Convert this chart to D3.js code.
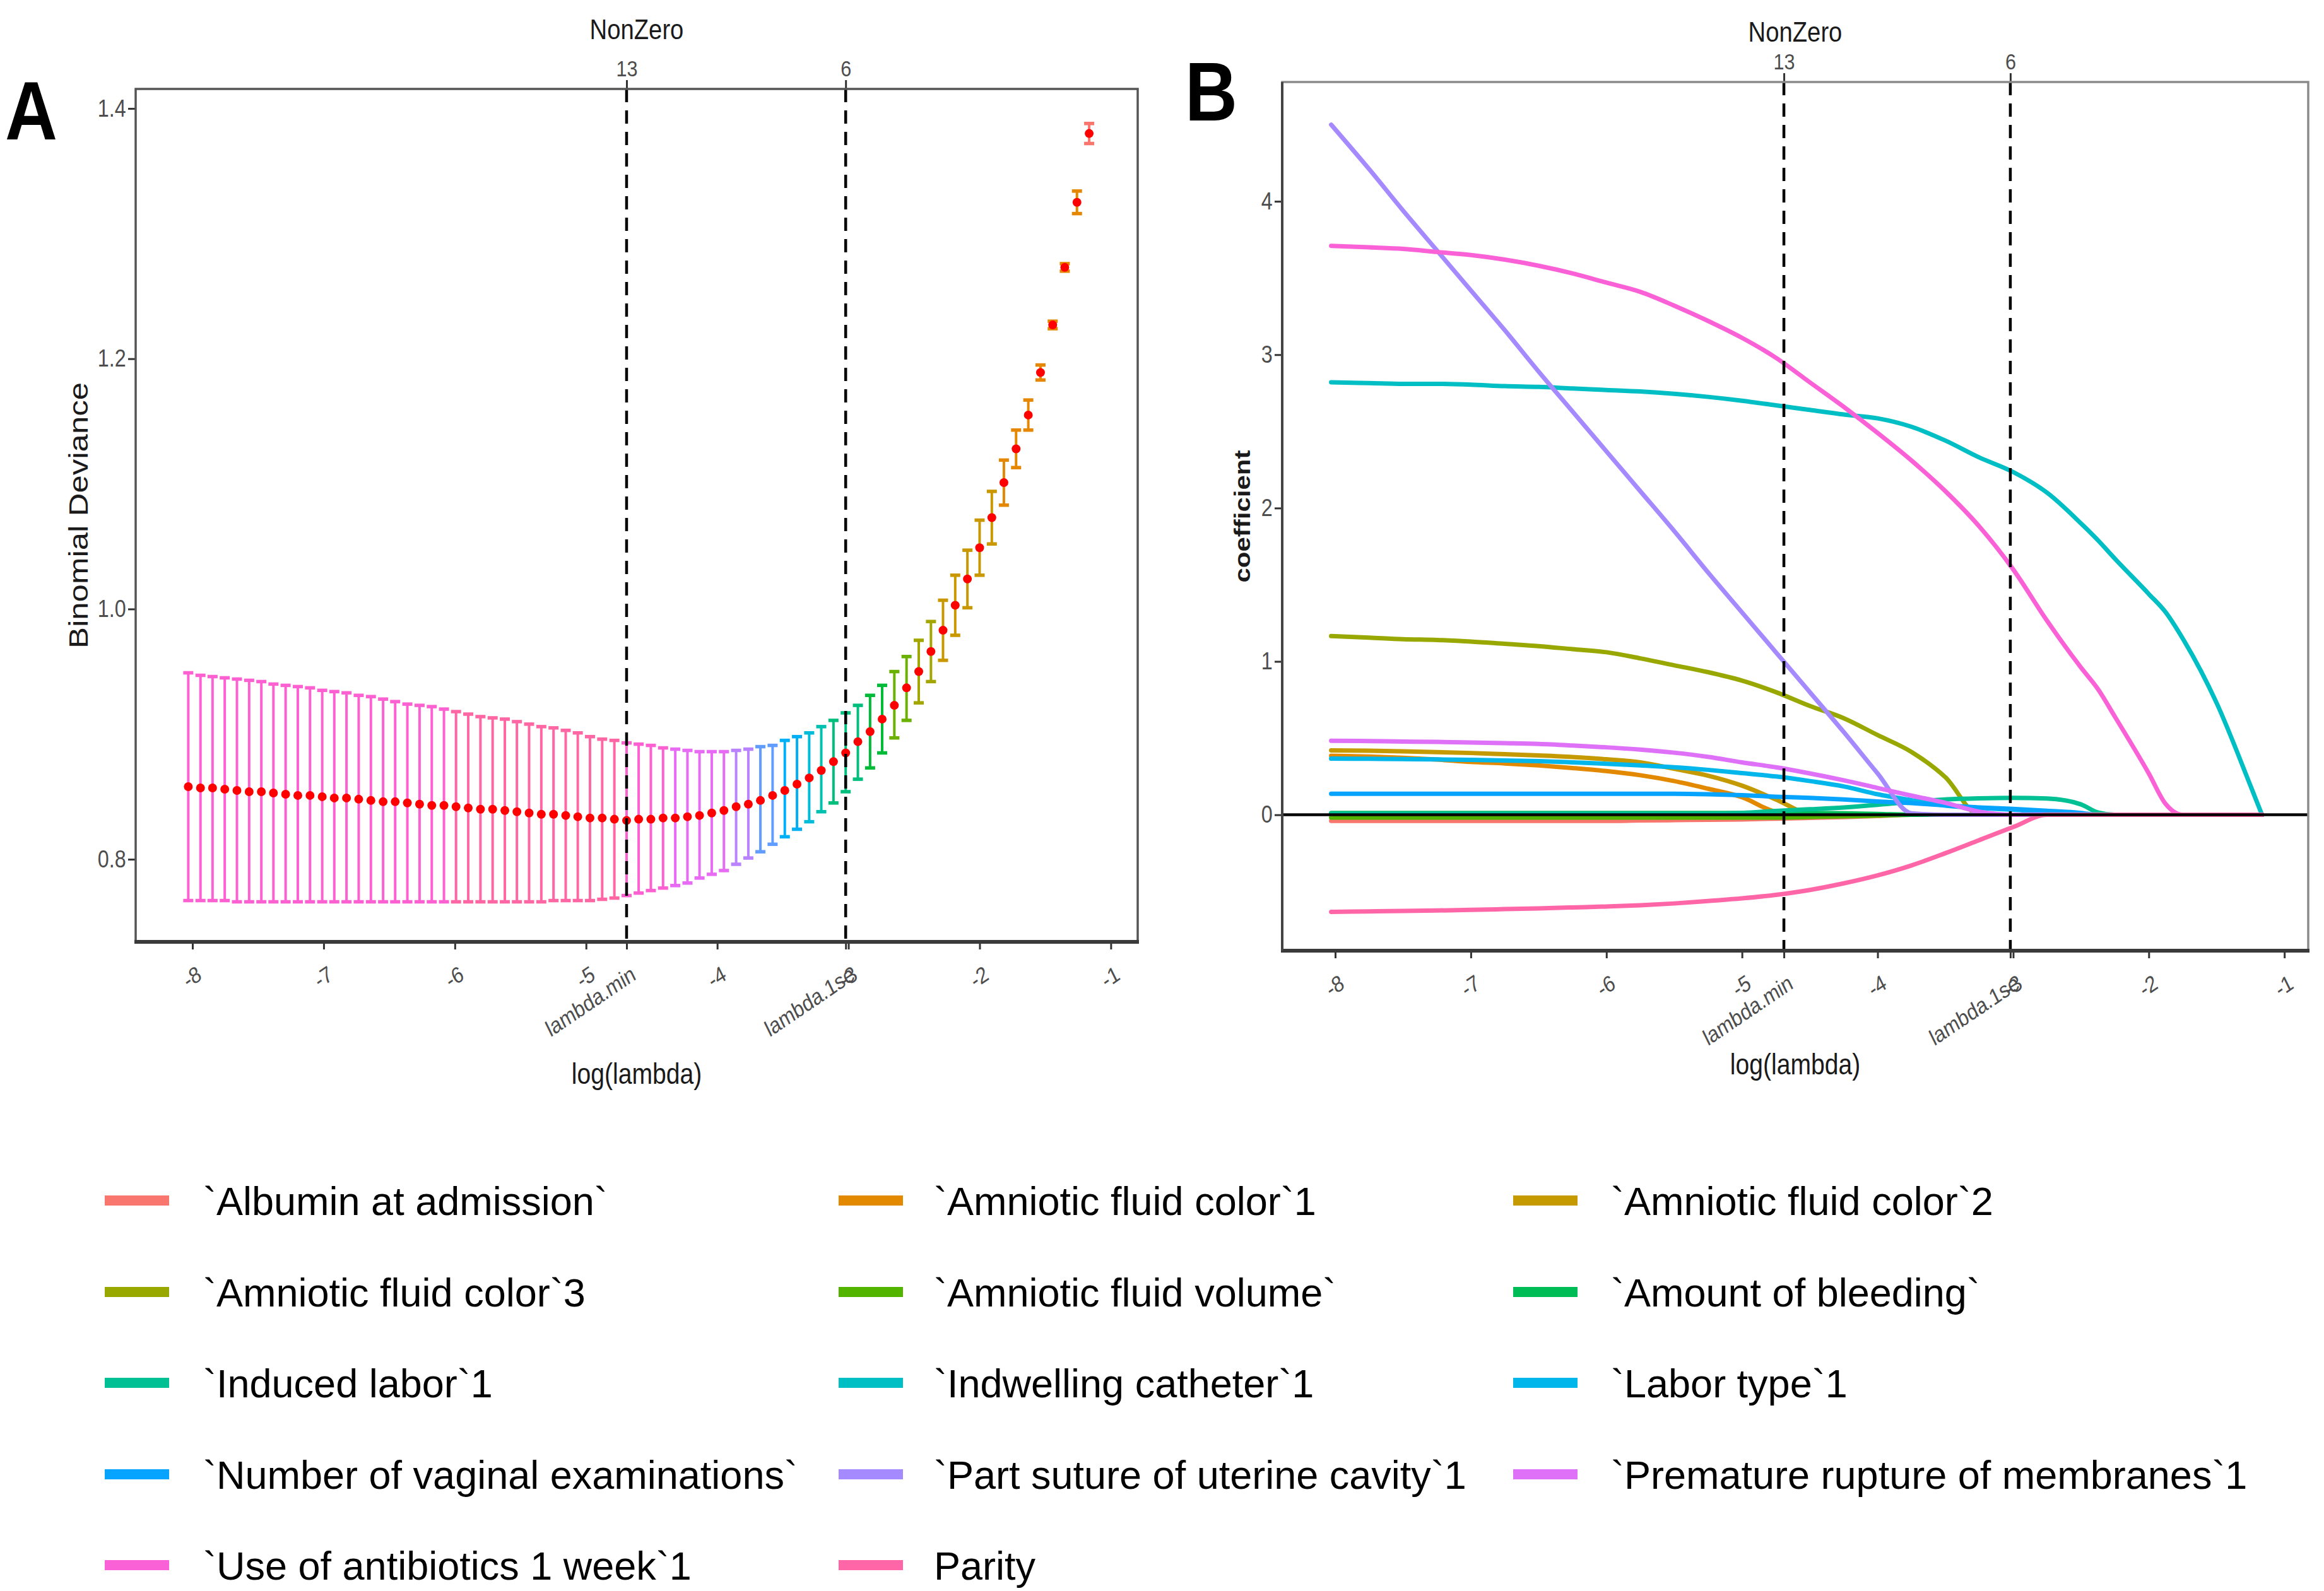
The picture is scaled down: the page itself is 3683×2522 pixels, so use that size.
<!DOCTYPE html>
<html>
<head>
<meta charset="utf-8">
<script src="https://cdn.jsdelivr.net/npm/d3@7"></script>
<style>
  html, body { margin: 0; padding: 0; background: #fff; }
</style>
</head>
<body>
<svg id="fig" width="3683" height="2522"></svg>
<script>
// ---------------- data: panel A (cross-validation curve) ----------------
const logLambda = [-1.165,-1.258,-1.351,-1.443,-1.536,-1.629,-1.722,-1.815,-1.907,-2.000,
  -2.093,-2.186,-2.279,-2.371,-2.464,-2.557,-2.650,-2.743,-2.835,-2.928,
  -3.021,-3.114,-3.207,-3.299,-3.392,-3.485,-3.578,-3.671,-3.763,-3.856,
  -3.949,-4.042,-4.135,-4.227,-4.320,-4.413,-4.506,-4.599,-4.691,-4.784,
  -4.877,-4.970,-5.063,-5.155,-5.248,-5.341,-5.434,-5.527,-5.619,-5.712,
  -5.805,-5.898,-5.991,-6.083,-6.176,-6.269,-6.362,-6.455,-6.547,-6.640,
  -6.733,-6.826,-6.919,-7.011,-7.104,-7.197,-7.290,-7.383,-7.475,-7.568,
  -7.661,-7.754,-7.847,-7.939,-8.032]
const cvm = [1.380,1.325,1.273,1.227,1.189,1.155,1.128,1.101,1.073,1.049,
  1.024,1.003,0.983,0.966,0.950,0.937,0.923,0.912,0.902,0.894,
  0.885,0.878,0.871,0.865,0.860,0.855,0.851,0.847,0.844,0.842,
  0.839,0.837,0.835,0.834,0.833,0.833,0.832,0.832,0.831,0.832,
  0.833,0.833,0.834,0.835,0.836,0.836,0.837,0.838,0.839,0.840,
  0.840,0.841,0.842,0.843,0.843,0.844,0.845,0.846,0.846,0.847,
  0.848,0.849,0.849,0.850,0.851,0.851,0.852,0.853,0.854,0.854,
  0.855,0.856,0.857,0.857,0.858]
const cvup = [1.388,1.334,1.276,1.230,1.195,1.167,1.143,1.119,1.094,1.071,
  1.047,1.027,1.007,0.990,0.975,0.962,0.950,0.939,0.931,0.923,
  0.917,0.911,0.906,0.901,0.898,0.895,0.891,0.890,0.888,0.887,
  0.886,0.886,0.886,0.887,0.888,0.889,0.891,0.892,0.893,0.895,
  0.896,0.898,0.901,0.903,0.905,0.906,0.908,0.910,0.912,0.913,
  0.914,0.916,0.918,0.920,0.922,0.923,0.924,0.926,0.928,0.930,
  0.931,0.933,0.934,0.935,0.937,0.938,0.939,0.940,0.942,0.943,
  0.944,0.945,0.946,0.947,0.949]
const cvlo = [1.372,1.316,1.270,1.224,1.183,1.143,1.113,1.083,1.052,1.027,
  1.001,0.979,0.959,0.942,0.925,0.911,0.897,0.885,0.873,0.864,
  0.854,0.845,0.838,0.830,0.824,0.818,0.812,0.806,0.801,0.796,
  0.791,0.788,0.785,0.781,0.779,0.777,0.775,0.773,0.771,0.769,
  0.768,0.767,0.767,0.767,0.767,0.766,0.766,0.766,0.766,0.766,
  0.766,0.766,0.766,0.766,0.766,0.766,0.766,0.766,0.766,0.766,
  0.766,0.766,0.766,0.766,0.766,0.766,0.766,0.766,0.766,0.766,
  0.766,0.767,0.767,0.767,0.767]
// number of non-zero coefficients at each lambda (drives bar colour)
const nzero = [0,1,1,1,1,1,1,1,2,2, 2,2,2,3,3,4,4,5,5,6,
  6,6,7,8,9,9,10,10,11,11, 12,12,12,12,12,13,13,13,13,14,
  14,14,14,14,14,14,14,14,14,14, 14,14,14,13,13,13,13,13,13,13,
  13,13,13,13,13,13,13,13,13,13, 13,13,13,13,13]
const lambdaMin = -4.691
const lambda1se = -3.021
const topLabels = ['13', '6']

// tick labels
const xTicks = [-8, -7, -6, -5, -4, -3, -2, -1]
const lambdaTickLabels = ['lambda.min', 'lambda.1se']
const yTicksA = [0.8, 1.0, 1.2, 1.4]
const yTicksB = [0, 1, 2, 3, 4]

// ---------------- data: panel B (coefficient paths) ----------------
const pathX = [-8.03,-7.75,-7.5,-7.25,-7.0,-6.75,-6.5,-6.25,-6.0,-5.75,-5.5,-5.25,-5.0,-4.75,-4.5,
  -4.25,-4.0,-3.75,-3.5,-3.25,-3.0,-2.75,-2.5,-2.375,-2.25,-2.0,-1.875,-1.75,-1.5,-1.25,-1.165]
const coefAlbumin = [-0.04,-0.04,-0.04,-0.04,-0.04,-0.04,-0.04,-0.04,-0.04,-0.037,-0.035,-0.032,-0.03,-0.025,-0.02,-0.015,-0.008,0,0,0,0,0,0,0,0,0,0,0,0,0,0]
const coefColor1 = [0.385,0.38,0.372,0.36,0.345,0.335,0.322,0.305,0.285,0.258,0.22,0.17,0.115,0.02,0,0,0,0,0,0,0,0,0,0,0,0,0,0,0,0,0]
const coefColor2 = [0.42,0.418,0.414,0.409,0.403,0.395,0.387,0.377,0.362,0.342,0.30,0.255,0.19,0.10,0.008,0,0,0,0,0,0,0,0,0,0,0,0,0,0,0,0]
const coefColor3 = [1.165,1.155,1.145,1.14,1.13,1.115,1.10,1.08,1.06,1.02,0.975,0.93,0.875,0.80,0.71,0.63,0.52,0.41,0.245,0,0,0,0,0,0,0,0,0,0,0,0]
const coefVolume = [-0.018,-0.018,-0.018,-0.018,-0.018,-0.018,-0.018,-0.018,-0.018,-0.018,-0.018,-0.018,-0.018,-0.018,-0.014,-0.01,-0.005,0,0,0,0,0,0,0,0,0,0,0,0,0,0]
const coefBleeding = [0.012,0.012,0.012,0.012,0.012,0.012,0.012,0.012,0.012,0.012,0.012,0.012,0.012,0.012,0.012,0.01,0.006,0,0,0,0,0,0,0,0,0,0,0,0,0,0]
const coefInduced = [0.008,0.008,0.008,0.008,0.008,0.008,0.008,0.008,0.008,0.008,0.008,0.008,0.012,0.025,0.036,0.048,0.065,0.085,0.10,0.107,0.11,0.106,0.068,0.015,0,0,0,0,0,0,0]
const coefCatheter = [2.82,2.815,2.81,2.81,2.805,2.795,2.79,2.78,2.77,2.76,2.745,2.725,2.70,2.67,2.64,2.61,2.585,2.53,2.44,2.33,2.235,2.10,1.90,1.79,1.67,1.44,1.32,1.15,0.73,0.19,0]
const coefLaborType = [0.366,0.365,0.363,0.361,0.358,0.354,0.35,0.342,0.333,0.322,0.31,0.293,0.272,0.25,0.22,0.185,0.134,0.095,0.06,0.045,0.033,0.02,0,0,0,0,0,0,0,0,0]
const coefVaginal = [0.137,0.137,0.137,0.137,0.137,0.137,0.137,0.137,0.137,0.137,0.137,0.134,0.128,0.118,0.11,0.10,0.087,0.076,0.062,0.048,0.038,0.026,0.012,0,0,0,0,0,0,0,0]
const coefSuture = [4.50,4.21,3.94,3.68,3.42,3.16,2.89,2.63,2.37,2.11,1.85,1.58,1.32,1.06,0.80,0.54,0.27,0.01,0,0,0,0,0,0,0,0,0,0,0,0,0]
const coefPROM = [0.483,0.481,0.478,0.475,0.471,0.467,0.462,0.452,0.44,0.425,0.405,0.378,0.342,0.31,0.27,0.225,0.175,0.125,0.078,0.02,0,0,0,0,0,0,0,0,0,0,0]
const coefAntibiotics = [3.71,3.70,3.69,3.67,3.65,3.62,3.58,3.53,3.47,3.41,3.32,3.22,3.11,2.98,2.82,2.66,2.49,2.31,2.11,1.88,1.60,1.265,0.96,0.82,0.64,0.27,0.07,0,0,0,0]
const coefParity = [-0.633,-0.630,-0.627,-0.624,-0.62,-0.615,-0.61,-0.604,-0.598,-0.59,-0.578,-0.562,-0.545,-0.522,-0.49,-0.447,-0.395,-0.33,-0.25,-0.165,-0.08,0,0,0,0,0,0,0,0,0,0]

const varNames = ['`Albumin at admission`', '`Amniotic fluid color`1', '`Amniotic fluid color`2',
  '`Amniotic fluid color`3', '`Amniotic fluid volume`', '`Amount of bleeding`',
  '`Induced labor`1', '`Indwelling catheter`1', '`Labor type`1',
  '`Number of vaginal examinations`', '`Part suture of uterine cavity`1', '`Premature rupture of membranes`1',
  '`Use of antibiotics 1 week`1', 'Parity']
const varCoefs = [coefAlbumin, coefColor1, coefColor2, coefColor3, coefVolume, coefBleeding,
  coefInduced, coefCatheter, coefLaborType, coefVaginal, coefSuture, coefPROM, coefAntibiotics, coefParity]

// ggplot default hue palettes
const varColors = ['#F8766D','#E38900','#C49A00','#99A800','#53B400','#00BC56','#00C094',
  '#00BFC4','#00B6EB','#06A4FF','#A58AFF','#DF70F8','#FB61D7','#FF66A8']
const nzeroColors = ['#F8766D','#E58700','#C99800','#A3A500','#6BB100','#00BA38','#00BF7D','#00C0AF',
  '#00BCD8','#00B0F6','#619CFF','#B983FF','#E76BF3','#FD61D1','#FF67A4']

// ---------------- drawing ----------------
const FONT = '"Liberation Sans", Arial, Helvetica, sans-serif'
const SX = 0.85   // the source figure is slightly squeezed horizontally
const svg = d3.select('#fig').attr('font-family', FONT)
svg.append('rect').attr('width', 3683).attr('height', 2522).attr('fill', '#fff')

function sText(parent, x, y, str, size, opt) {
  opt = opt || {}
  const g = parent.append('g')
    .attr('transform', `translate(${x},${y}) scale(${opt.sx || SX},1)` + (opt.rotate ? ` rotate(${opt.rotate})` : ''))
  return g.append('text')
    .attr('font-size', size)
    .attr('text-anchor', opt.anchor || 'middle')
    .attr('dy', opt.dy || 0)
    .attr('font-weight', opt.weight || 'normal')
    .attr('fill', opt.fill || '#1a1a1a')
    .text(str)
}

function drawFrame(g, x, y, box, yTicks, yFmt, cfg) {
  // left axis
  const ay = g.append('g').attr('transform', `translate(${box.left},0)`)
    .call(d3.axisLeft(y).tickValues(yTicks).tickFormat(yFmt).tickSize(12).tickPadding(6))
  ay.attr('font-family', FONT)
  ay.select('.domain').remove()
  ay.selectAll('line').attr('stroke', '#333').attr('stroke-width', 3)
  ay.selectAll('text').attr('font-size', 38).attr('fill', '#4d4d4d').attr('transform', `scale(${SX},1)`)

  // bottom axis with rotated labels
  const bTicks = xTicks.concat([lambdaMin, lambda1se])
  const bLabels = xTicks.map(String).concat(lambdaTickLabels)
  const ab = g.append('g').attr('transform', `translate(0,${box.bottom})`)
    .call(d3.axisBottom(x).tickValues(bTicks).tickFormat((d, i) => bLabels[i]).tickSize(12))
  ab.attr('font-family', FONT)
  ab.select('.domain').remove()
  ab.selectAll('line').attr('stroke', '#333').attr('stroke-width', 3)
  ab.selectAll('text').attr('font-size', 36).attr('fill', '#4d4d4d')
    .attr('x', 0).attr('y', 0).attr('dy', '0.72em').attr('text-anchor', 'end')
    .attr('transform', `translate(5,36) scale(${SX},1) rotate(-30)`)

  // top axis (number of non-zero coefficients)
  const at = g.append('g').attr('transform', `translate(0,${box.top})`)
    .call(d3.axisTop(x).tickValues([lambdaMin, lambda1se]).tickFormat((d, i) => topLabels[i]).tickSize(14).tickPadding(6))
  at.attr('font-family', FONT)
  at.select('.domain').remove()
  at.selectAll('line').attr('stroke', '#333').attr('stroke-width', 3)
  at.selectAll('text').attr('font-size', 36).attr('fill', '#4d4d4d').attr('transform', `scale(${SX},1)`)

  // panel border + axis line
  g.append('rect').attr('x', box.left).attr('y', box.top)
    .attr('width', box.right - box.left).attr('height', box.bottom - box.top)
    .attr('fill', 'none').attr('stroke', cfg.border).attr('stroke-width', 3.5)
  g.append('line').attr('x1', box.left - 2).attr('x2', box.right + 2)
    .attr('y1', box.bottom).attr('y2', box.bottom)
    .attr('stroke', '#3a3a3a').attr('stroke-width', 6)
}

function drawDashed(g, x, box) {
  g.selectAll('line.vcut').data([lambdaMin, lambda1se]).join('line')
    .attr('class', 'vcut')
    .attr('x1', d => x(d)).attr('x2', d => x(d))
    .attr('y1', box.top).attr('y2', box.bottom)
    .attr('stroke', '#000').attr('stroke-width', 4.5).attr('stroke-dasharray', '21,13')
}

// ---- Panel A ----
const boxA = { left: 215, right: 1803, top: 141, bottom: 1493 }
const xA = d3.scaleLinear().domain([-8.433, -0.795]).range([boxA.left, boxA.right])
const yA = d3.scaleLinear().domain([0.734, 1.4156]).range([boxA.bottom, boxA.top])
const colA = d3.scaleOrdinal().domain(d3.range(nzeroColors.length)).range(nzeroColors)
const gA = svg.append('g')
const cvData = logLambda.map((l, i) => ({ l: l, m: cvm[i], up: cvup[i], lo: cvlo[i], nz: nzero[i] }))

const bars = gA.append('g').selectAll('g').data(cvData).join('g')
  .attr('stroke', d => colA(d.nz))
bars.append('line').attr('x1', d => xA(d.l)).attr('x2', d => xA(d.l))
  .attr('y1', d => yA(d.up)).attr('y2', d => yA(d.lo)).attr('stroke-width', 4)
bars.append('line').attr('x1', d => xA(d.l) - 8).attr('x2', d => xA(d.l) + 8)
  .attr('y1', d => yA(d.up)).attr('y2', d => yA(d.up)).attr('stroke-width', 5.5)
bars.append('line').attr('x1', d => xA(d.l) - 8).attr('x2', d => xA(d.l) + 8)
  .attr('y1', d => yA(d.lo)).attr('y2', d => yA(d.lo)).attr('stroke-width', 5.5)
gA.append('g').selectAll('circle').data(cvData).join('circle')
  .attr('cx', d => xA(d.l)).attr('cy', d => yA(d.m)).attr('r', 7).attr('fill', '#ff0000')
drawDashed(gA, xA, boxA)
drawFrame(gA, xA, yA, boxA, yTicksA, d3.format('.1f'), { border: '#555' })

sText(gA, (boxA.left + boxA.right) / 2, 62, 'NonZero', 45)
sText(gA, (boxA.left + boxA.right) / 2, 1718, 'log(lambda)', 46)
sText(gA, 124, (boxA.top + boxA.bottom) / 2, 'Binomial Deviance', 51, { rotate: -90, dy: '0.35em' })
sText(svg, 8, 221, 'A', 132, { anchor: 'start', weight: 'bold', fill: '#000', sx: 0.87 })

// ---- Panel B ----
const boxB = { left: 2032, right: 3658, top: 130, bottom: 1507 }
const xB = d3.scaleLinear().domain([-8.391, -0.824]).range([boxB.left, boxB.right])
const yB = d3.scaleLinear().domain([-0.886, 4.778]).range([boxB.bottom, boxB.top])
const gB = svg.append('g')
const pathLine = d3.line().x(d => xB(d[0])).y(d => yB(d[1])).curve(d3.curveMonotoneX)

gB.append('g').selectAll('path').data(varCoefs).join('path')
  .attr('d', vals => pathLine(vals.map((v, j) => [pathX[j], v])))
  .attr('fill', 'none')
  .attr('stroke', (vals, i) => varColors[i])
  .attr('stroke-width', 7)
  .attr('stroke-linejoin', 'round').attr('stroke-linecap', 'round')
gB.append('line').attr('x1', boxB.left).attr('x2', boxB.right)
  .attr('y1', yB(0)).attr('y2', yB(0)).attr('stroke', '#000').attr('stroke-width', 4.5)
drawDashed(gB, xB, boxB)
drawFrame(gB, xB, yB, boxB, yTicksB, d3.format('d'), { border: '#8a8a8a' })
gB.append('line').attr('x1', boxB.left).attr('x2', boxB.left)
  .attr('y1', boxB.top).attr('y2', boxB.bottom).attr('stroke', '#444').attr('stroke-width', 4)

sText(gB, (boxB.left + boxB.right) / 2, 66, 'NonZero', 45)
sText(gB, (boxB.left + boxB.right) / 2, 1703, 'log(lambda)', 46)
sText(gB, 1968, (boxB.top + boxB.bottom) / 2, 'coefficient', 42, { rotate: -90, dy: '0.35em', weight: 'bold' })
sText(svg, 1878, 191, 'B', 132, { anchor: 'start', weight: 'bold', fill: '#000', sx: 0.87 })

// ---- Legend ----
const legKeyX = [166, 1329, 2398]
const legTextX = [322, 1480, 2553]
const legRowY = [1903, 2048, 2192, 2337, 2481]
const leg = svg.append('g')
const items = leg.selectAll('g').data(varNames).join('g')
  .attr('transform', (d, i) => `translate(0,${legRowY[Math.floor(i / 3)]})`)
items.append('line')
  .attr('x1', (d, i) => legKeyX[i % 3]).attr('x2', (d, i) => legKeyX[i % 3] + 102)
  .attr('y1', 0).attr('y2', 0)
  .attr('stroke', (d, i) => varColors[i]).attr('stroke-width', 16)
items.append('text')
  .attr('x', (d, i) => legTextX[i % 3]).attr('y', 0).attr('dy', '0.36em')
  .attr('font-size', 63).attr('fill', '#000')
  .text(d => d)
</script>
</body>
</html>
